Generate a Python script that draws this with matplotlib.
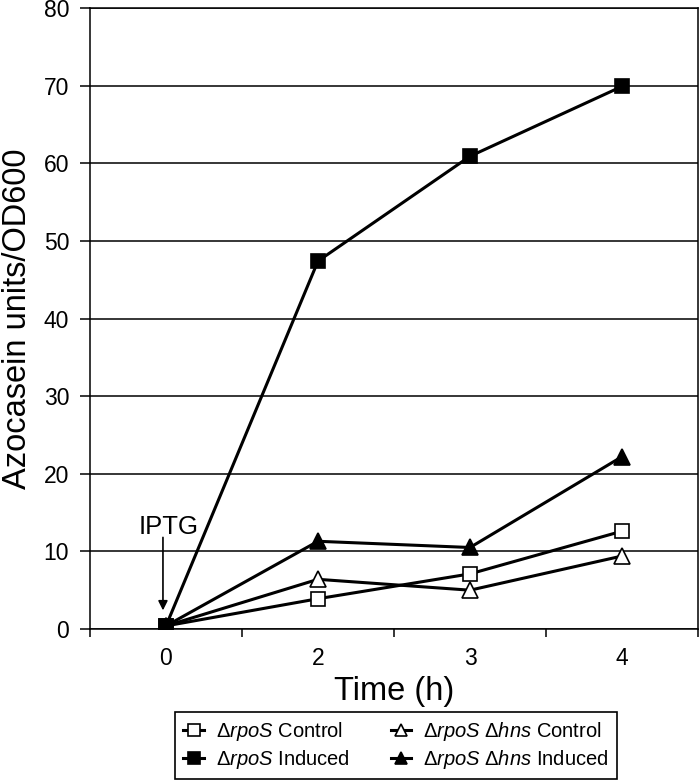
import matplotlib
matplotlib.use("Agg")
import matplotlib.pyplot as plt

plt.rcParams['font.family'] = ['Liberation Sans', 'DejaVu Sans']
plt.rcParams['mathtext.fontset'] = 'custom'
plt.rcParams['mathtext.rm'] = 'Liberation Sans'
plt.rcParams['mathtext.it'] = 'Liberation Sans:italic'

# ---- data ----
time_labels = ["0", "2", "3", "4"]
rpoS_control = [0.4, 3.9, 7.1, 12.6]
rpoS_induced = [0.4, 47.4, 60.9, 69.9]
hns_control = [0.4, 6.4, 5.0, 9.4]
hns_induced = [0.4, 11.3, 10.5, 22.2]
series_labels = [r"Δ$\mathit{rpoS}$ Control",
                 r"Δ$\mathit{rpoS}$ Induced",
                 r"Δ$\mathit{rpoS}$ Δ$\mathit{hns}$ Control",
                 r"Δ$\mathit{rpoS}$ Δ$\mathit{hns}$ Induced"]
y_ticks = [0, 10, 20, 30, 40, 50, 60, 70, 80]

fig = plt.figure(figsize=(7, 7.8), dpi=100)
ax = fig.add_axes([90/700, 1-629/780, 608/700, 621/780])

x = list(range(len(time_labels)))
lw = 2.2
ms = 10
mew = 1.2

l1, = ax.plot(x, rpoS_control, color='black', lw=lw, marker='s', ms=ms,
              mfc='white', mec='black', mew=mew, zorder=3, label=series_labels[0])
l3, = ax.plot(x, hns_control, color='black', lw=lw, marker='^', ms=ms+1,
              mfc='white', mec='black', mew=mew, zorder=3, label=series_labels[2])
l4, = ax.plot(x, hns_induced, color='black', lw=lw, marker='^', ms=ms+1,
              mfc='black', mec='black', mew=mew, zorder=4, label=series_labels[3])
l2, = ax.plot(x, rpoS_induced, color='black', lw=lw, marker='s', ms=ms,
              mfc='black', mec='black', mew=mew, zorder=5, label=series_labels[1])

ax.set_xlim(-0.5, len(time_labels) - 0.5)
ax.set_ylim(0, 80)
ax.set_yticks(y_ticks)
ax.set_yticklabels([str(v) for v in y_ticks])
ax.set_xticks(x)
ax.set_xticklabels(time_labels)
ax.set_xticks([i - 0.5 for i in range(len(time_labels) + 1)], minor=True)

ax.yaxis.grid(True, color='black', lw=1.1)
ax.set_axisbelow(True)
for s in ax.spines.values():
    s.set_linewidth(1.1)
    s.set_color('black')

ax.tick_params(axis='y', which='major', direction='out', length=7, width=1.1,
               labelsize=16.5, pad=8)
ax.tick_params(axis='x', which='major', length=0, labelsize=16.5, pad=13)
ax.tick_params(axis='x', which='minor', direction='out', length=6, width=1.1)

ax.set_xlabel("Time (h)", fontsize=23.5, labelpad=4)
ax.set_ylabel("Azocasein units/OD600", fontsize=23.5, labelpad=8)

ax.annotate("", xy=(-0.02, 2.4), xytext=(-0.02, 11.8),
            arrowprops=dict(arrowstyle='-|>', color='black', lw=1.2,
                            mutation_scale=14, shrinkA=0, shrinkB=0))
ax.text(0.02, 12.3, "IPTG", ha='center', va='baseline', fontsize=18.5)

fig.legend(handles=[l1, l2, l3, l4], labels=series_labels, ncol=2,
           loc='center', bbox_to_anchor=(396/700, 1-745.5/780),
           bbox_transform=fig.transFigure, fontsize=14.5, frameon=True,
           fancybox=False, edgecolor='black', framealpha=1,
           handlelength=1.0, handletextpad=0.6, columnspacing=2.05,
           labelspacing=0.25, borderpad=0.4, markerscale=0.85)
fig.legends[0].get_frame().set_linewidth(1.2)

fig.savefig("out.png", dpi=100)
